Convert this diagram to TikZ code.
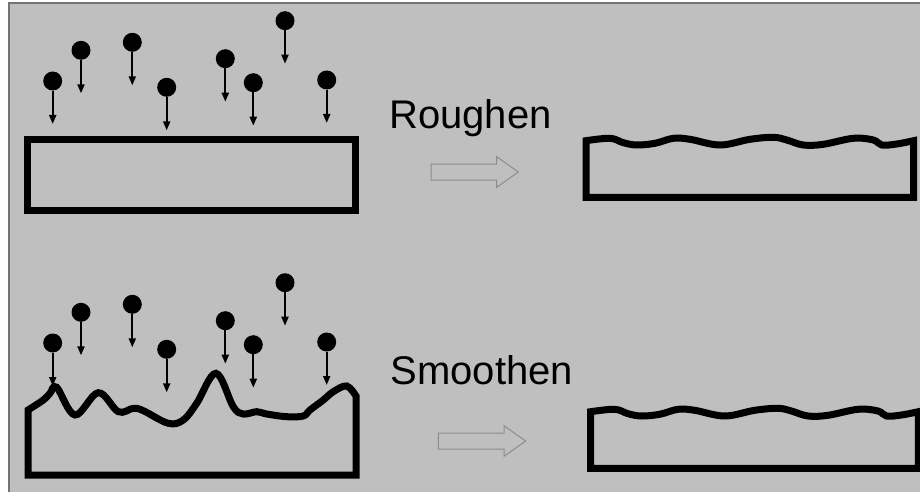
\documentclass[tikz,border=0pt]{standalone}
\usepackage{fontspec}
\setmainfont{Liberation Sans}
\usetikzlibrary{arrows.meta}

\begin{document}
\begin{tikzpicture}[x=1pt,y=-1pt,
  wall/.style={black,line width=7pt,line join=miter},
  ball/.style={circle,fill=black,inner sep=0pt,minimum size=19pt},
  drop/.style={black,line width=2pt,-{Triangle[length=9pt,width=7pt]}},
  block/.style={draw=black!45,line width=1pt},
  label/.style={anchor=base west,inner sep=0pt,font=\fontsize{40}{48}\selectfont}]

\useasboundingbox (0,0) rectangle (920,492);
\fill[white] (0,0) rectangle (920,492);
\fill[black!25] (9,3) rectangle (920,492);
\draw[black!55,line width=1.2pt] (9,492) -- (9,3) -- (920,3);

% falling particles, same pattern over both surfaces
\foreach \i/\x/\y in {1/52.7/81, 2/81/50.3, 3/132.3/42.3, 4/166.7/87.3,
                      5/225.3/58.7, 6/253.3/82.7, 7/285/20.7, 8/326.7/80}{
  \node[ball] (top\i) at (\x,\y) {};
  \coordinate (toptip\i) at (\x,\y+43);
  \draw[drop] (top\i) -- (toptip\i);
  \node[ball] (bot\i) at (\x,\y+262) {};
  \coordinate (bottip\i) at (\x,\y+305);
  \draw[drop] (bot\i) -- (bottip\i);
}

% flat surface
\draw[wall] (27,139.5) rectangle (355.5,210);

% rough surface
\draw[wall] (356,396) -- (356,475) -- (28,475) -- plot[smooth,tension=0.6] coordinates {
  (28,410) (43.3,400) (50,393.3) (56.7,387.3) (75,415) (98.3,392.7)
  (118.3,411.7) (133.3,408.3) (143.3,410.7) (168.3,423.3) (183.3,420)
  (196.7,403.3) (216,373.3) (233.3,406.7) (243.3,414) (256.7,411.7)
  (266.7,414) (286.7,416.7) (303.3,416) (310,410) (323.3,400)
  (333.3,391.7) (346.7,386) (356,396)} -- cycle;

\node[label] (rough) at (389,128.3) {Roughen};
\node[label] (smooth) at (390.5,384) {Smoothen};

% hollow arrows
\coordinate (R) at (431,172);
\coordinate (S) at (438.3,441);
\foreach \c in {R,S}
  \draw[block] (\c) ++(0,-8) -- ++(65.7,0) -- ++(0,-7.3) -- ++(21.6,15.3)
    -- ++(-21.6,15.3) -- ++(0,-7.3) -- ++(-65.7,0) -- cycle;

% wavy surfaces after the step
\foreach \dx/\dy in {0/0, 4.7/271}{
  \begin{scope}[shift={(\dx,\dy)}]
    \draw[wall] (913.7,140.7) -- (913.7,197.3) -- (586,197.3) -- plot[smooth,tension=0.6] coordinates {
      (586,140.7) (610,138.3) (623.3,142.7) (636.7,145) (655,143.3) (673.3,138.3)
      (690,139.3) (720,145) (750,139.3) (773.3,137.3) (786.7,140) (803.3,145)
      (823.3,144.3) (853.3,138.3) (873.3,140) (881.7,145) (896.7,144) (913.7,140.7)} -- cycle;
  \end{scope}
}

\end{tikzpicture}
\end{document}
